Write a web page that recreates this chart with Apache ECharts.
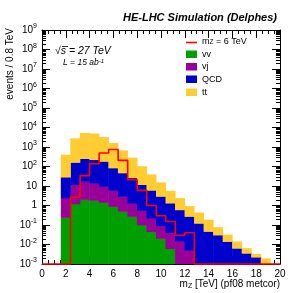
<!DOCTYPE html>
<html><head><meta charset="utf-8">
<script src="https://cdn.jsdelivr.net/npm/echarts@6/dist/echarts.min.js"></script>
<style>html,body{margin:0;padding:0;background:#fff}#c{width:305px;height:293px}</style>
</head><body><div id="c"></div>
<script>
// Bin lower edges (TeV), bin width 0.8 TeV
const binEdges = [0,0.8,1.6,2.4,3.2,4.0,4.8,5.6,6.4,7.2,8.0,8.8,9.6,10.4,11.2,12.0,12.8,13.6,14.4,15.2,16.0,16.8,17.6,18.4,19.2];
const binWidth = 0.8;
// stacked backgrounds (bottom -> top)
const vv  = [0,0,0.24,1.2,2.0,1.8,1.4,0.87,0.49,0.27,0.1,0.045,0.02,0.006,0,0,0,0,0,0,0,0,0,0,0];
const vj  = [0,0,2.16,10.3,15,12.2,7.9,5.0,2.4,1.03,0.45,0.175,0.07,0.034,0.015,0.005,0,0,0,0,0,0,0,0,0];
const qcd = [0,0,25.6,148,233,206,171,77,43,24.7,11,5.7,2.8,1.26,0.575,0.265,0.12,0.046,0.03,0.014,0.0063,0.0035,0.0022,0,0];
const tt  = [0,0,362,2540,4850,4580,2970,1470,604,249,88.5,32,12,4.2,1.71,0.63,0.3,0.134,0.045,0.017,0.0077,0.0028,0.001,0.0019,0];
// signal m_Z = 6 TeV
const signal = [0,0,0,2.7,34,138,490,740,205,21,6,1.0,0.3,0.15,0.03,0.04,0,0,0,0,0,0,0,0,0];
const yMin = 1e-3, yMax = 1e9;
const xMin = 0, xMax = 20;
// log axis decades and minor-tick multipliers
const decades = [-3,-2,-1,0,1,2,3,4,5,6,7,8];
const minorMult = [2,3,4,5,6,7,8,9];

const components = [
  {name:'vv', data: vv, color:'#009e00'},
  {name:'vj', data: vj, color:'#990099'},
  {name:'QCD', data: qcd, color:'#0000cc'},
  {name:'tt', data: tt, color:'#ffcc33'}
];
const cum = [];
let running = binEdges.map(() => 0);
components.forEach(c => {
  const lo = running.slice();
  const hi = running.map((v, i) => v + c.data[i]);
  cum.push({lo, hi});
  running = hi;
});

const FONT = '"Liberation Sans", Arial, sans-serif';
const series = components.map((c, k) => ({
  type: 'custom',
  name: c.name,
  xAxisIndex: 0, yAxisIndex: 0,
  clip: true,
  data: binEdges.map((e, i) => [e, cum[k].lo[i], cum[k].hi[i], c.data[i]]),
  renderItem: function (params, api) {
    const e = api.value(0), lo = api.value(1), hi = api.value(2), v = api.value(3);
    if (!(v > 0)) return null;
    const p0 = api.coord([e, Math.max(lo, yMin)]);
    const p1 = api.coord([e + binWidth, Math.max(hi, yMin)]);
    return {
      type: 'rect',
      shape: {x: p0[0] - 0.25, y: p1[1] - 0.25, width: p1[0] - p0[0] + 0.5, height: p0[1] - p1[1] + 0.5},
      style: {fill: c.color}
    };
  }
}));
const sigPts = binEdges.map((e, i) => [e, Math.max(signal[i], yMin)]);
sigPts.push([xMax, Math.max(signal[signal.length - 1], yMin)]);
series.push({
  type: 'line', name: 'signal', step: 'end', data: sigPts, symbol: 'none',
  clip: false, z: 5,
  lineStyle: {color: '#ff0000', width: 1.6}
});
// log minor ticks on left and right frame edges
const minorVals = [];
decades.forEach(d => minorMult.forEach(m => minorVals.push([m * Math.pow(10, d)])));
series.push({
  type: 'custom', name: 'minorTicks', silent: true, clip: false, z: 6,
  data: minorVals,
  renderItem: function (params, api) {
    const v = api.value(0);
    const pl = api.coord([xMin, v]);
    const pr = api.coord([xMax, v]);
    const y = Math.round(pl[1]) + 0.5;
    return {type: 'group', children: [
      {type: 'line', shape: {x1: pl[0], y1: y, x2: pl[0] + 4, y2: y}, style: {stroke: '#000', lineWidth: 1}},
      {type: 'line', shape: {x1: pr[0] - 4, y1: y, x2: pr[0], y2: y}, style: {stroke: '#000', lineWidth: 1}}
    ]};
  }
});

function yLabel(v) {
  const n = Math.round(Math.log10(v));
  if (n === 0) return '{b|1}';
  if (n === 1) return '{b|10}';
  return '{b|10}{s|' + n + '}';
}
const yRich = {
  b: {fontSize: 10, fontFamily: FONT, color: '#000', lineHeight: 14},
  s: {fontSize: 7, fontFamily: FONT, color: '#000', verticalAlign: 'top', lineHeight: 8}
};
const axisCommonX = {
  type: 'value', min: xMin, max: xMax, interval: 2,
  axisLine: {show: true, onZero: false, lineStyle: {color: '#000', width: 1}},
  axisTick: {show: true, inside: true, length: 8, lineStyle: {color: '#000'}},
  minorTick: {show: true, splitNumber: 4, length: 4, lineStyle: {color: '#000'}},
  splitLine: {show: false}
};
const axisCommonY = {
  type: 'log', logBase: 10, min: yMin, max: yMax, interval: 1,
  axisLine: {show: true, onZero: false, lineStyle: {color: '#000', width: 1}},
  axisTick: {show: true, inside: true, length: 8, lineStyle: {color: '#000'}},
  splitLine: {show: false}
};

const chart = echarts.init(document.getElementById('c'), null, {renderer: 'canvas'});
chart.setOption({
  animation: false,
  backgroundColor: '#fff',
  grid: {left: 42, right: 25, top: 30, bottom: 29, containLabel: false},
  xAxis: [
    Object.assign({}, axisCommonX, {position: 'bottom',
      axisLabel: {show: true, fontSize: 10, fontFamily: FONT, color: '#000', margin: 5}}),
    Object.assign({}, axisCommonX, {position: 'top', axisLabel: {show: false}})
  ],
  yAxis: [
    Object.assign({}, axisCommonY, {position: 'left',
      axisLabel: {show: true, margin: 5, formatter: yLabel, rich: yRich}}),
    Object.assign({}, axisCommonY, {position: 'right', axisLabel: {show: false}})
  ],
  series: series,
  graphic: [
    {type: 'text', right: 28, top: 12, style: {text: 'HE-LHC Simulation (Delphes)', font: 'bold italic 11px ' + FONT, fill: '#000'}},
    {type: 'text', left: 55, top: 46, style: {text: '√s = 27 TeV', font: 'italic 10.5px ' + FONT, fill: '#000'}},
    {type: 'line', shape: {x1: 62, y1: 46.5, x2: 68, y2: 46.5}, style: {stroke: '#000', lineWidth: 0.8}},
    {type: 'text', left: 63, top: 58.5, style: {text: 'L = 15 ab{s|-1}', font: 'italic 8.5px ' + FONT, fill: '#000',
      rich: {s: {fontSize: 6, fontStyle: 'italic', fontFamily: FONT, verticalAlign: 'top', lineHeight: 6}}}},
    {type: 'text', x: 10, y: 28, rotation: Math.PI / 2, style: {text: 'events / 0.8 TeV', font: '10px ' + FONT, fill: '#000', align: 'right', verticalAlign: 'middle'}},
    {type: 'text', right: 25, top: 279.5, style: {text: 'm{sub|Z} [TeV] (pf08 metcor)', font: '10px ' + FONT, fill: '#000',
      rich: {sub: {fontSize: 7, fontFamily: FONT, verticalAlign: 'bottom', lineHeight: 8}}}},
    {type: 'line', shape: {x1: 186, y1: 42.5, x2: 197, y2: 42.5}, style: {stroke: '#ff0000', lineWidth: 1.6}},
    {type: 'text', left: 202, top: 37, style: {text: 'm{sub|Z} = 6 TeV', font: '9px ' + FONT, fill: '#000',
      rich: {sub: {fontSize: 6.5, fontFamily: FONT, verticalAlign: 'bottom', lineHeight: 7}}}},
    {type: 'rect', shape: {x: 186, y: 50.5, width: 11, height: 7.5}, style: {fill: '#009e00'}},
    {type: 'text', left: 202, top: 50, style: {text: 'vv', font: '9px ' + FONT, fill: '#000'}},
    {type: 'rect', shape: {x: 186, y: 63, width: 11, height: 7.5}, style: {fill: '#990099'}},
    {type: 'text', left: 202, top: 62.5, style: {text: 'vj', font: '9px ' + FONT, fill: '#000'}},
    {type: 'rect', shape: {x: 186, y: 75.5, width: 11, height: 7.5}, style: {fill: '#0000cc'}},
    {type: 'text', left: 202, top: 75, style: {text: 'QCD', font: '9px ' + FONT, fill: '#000'}},
    {type: 'rect', shape: {x: 186, y: 88.5, width: 11, height: 7.5}, style: {fill: '#ffcc33'}},
    {type: 'text', left: 202, top: 88, style: {text: 'tt', font: '9px ' + FONT, fill: '#000'}}
  ]
});
</script>
</body></html>
